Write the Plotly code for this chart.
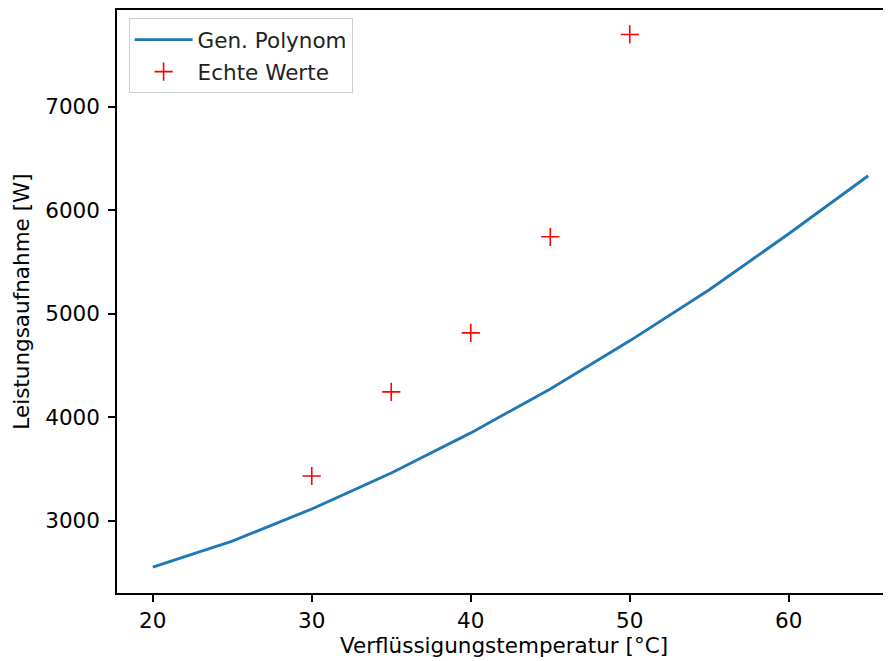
import plotly.graph_objects as go

# Data
poly_x = [20, 25, 30, 35, 40, 45, 50, 55, 60, 65]
poly_y = [2553, 2803, 3113, 3461, 3848, 4273, 4737, 5230, 5771, 6331]
real_x = [30, 35, 40, 45, 50]
real_y = [3432, 4244, 4814, 5742, 7696]
x_ticks = [20, 30, 40, 50, 60]
y_ticks = [3000, 4000, 5000, 6000, 7000]

FONT = "DejaVu Sans"
FS = 21.5

fig = go.Figure()
fig.add_trace(go.Scatter(
    x=poly_x, y=poly_y, mode="lines", name="Gen. Polynom",
    line=dict(color="#1f77b4", width=2.9), legendgroup="a",
))
fig.add_trace(go.Scatter(
    x=real_x, y=real_y, mode="markers", name="Echte Werte",
    marker=dict(symbol="cross-thin", size=13, line=dict(color="red", width=1.6), color="red"),
    legendgroup="b",
))

fig.update_layout(
    width=883, height=653,
    margin=dict(l=109, r=0, t=2, b=68),
    paper_bgcolor="white", plot_bgcolor="white",
    font=dict(family=FONT, size=FS, color="black"),
    showlegend=True,
    legend=dict(
        x=0.015, y=0.986, xanchor="left", yanchor="top",
        bgcolor="rgba(255,255,255,0.8)", bordercolor="#cccccc", borderwidth=1,
        font=dict(family=FONT, size=FS, color="#222222"),
        traceorder="grouped", tracegroupgap=1,
        itemwidth=58,
    ),
)
fig.update_xaxes(
    range=[17.75, 66.43], tickvals=x_ticks, ticktext=[str(v) for v in x_ticks],
    showgrid=False, zeroline=False, showline=True, mirror=True,
    linecolor="black", linewidth=1.5, ticks="outside", ticklen=7, tickwidth=1.5,
    tickcolor="black",
    title=dict(text="Verflüssigungstemperatur [°C]", standoff=6, font=dict(size=FS)),
)
fig.update_yaxes(
    range=[2302, 7932], tickvals=y_ticks, ticktext=[str(v) for v in y_ticks],
    showgrid=False, zeroline=False, showline=True, mirror=False,
    linecolor="black", linewidth=1.5, ticks="outside", ticklen=7, tickwidth=1.5,
    tickcolor="black", ticklabelstandoff=4,
    title=dict(text="Leistungsaufnahme [W]", standoff=10, font=dict(size=FS)),
)

fig.write_html("out.html")
